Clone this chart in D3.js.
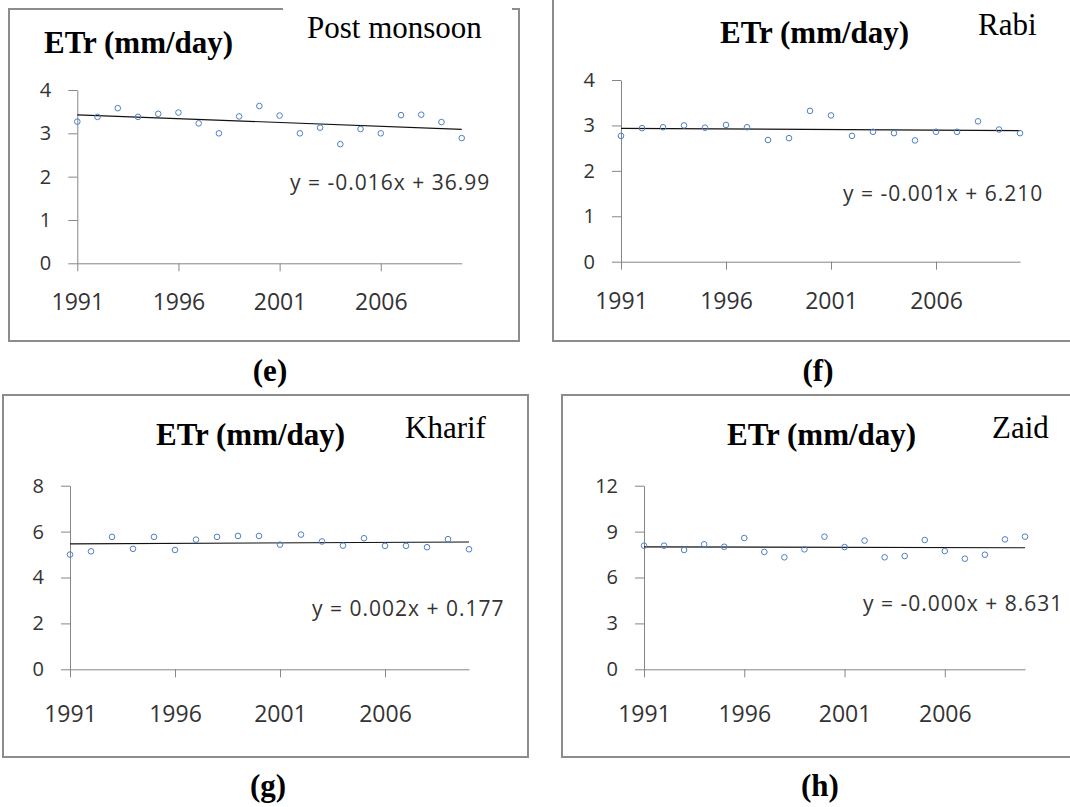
<!DOCTYPE html>
<html>
<head>
<meta charset="utf-8">
<script src="https://cdn.jsdelivr.net/npm/d3@7/dist/d3.min.js"></script>
<style>
  html, body { margin: 0; padding: 0; background: #fff; }
  svg { display: block; }
  .tick text { font-family: "Open Sans", sans-serif; fill: #333; }
  .serif { font-family: "Liberation Serif", "Times New Roman", serif; }
</style>
</head>
<body>
<div id="chart"></div>
<script>
/* ---- data ---- */
const years = [1991,1992,1993,1994,1995,1996,1997,1998,1999,2000,
               2001,2002,2003,2004,2005,2006,2007,2008,2009,2010];

const postMonsoon = [3.27,3.38,3.58,3.38,3.45,3.48,3.23,3.00,3.39,3.63,
                     3.41,3.00,3.13,2.75,3.10,3.00,3.42,3.43,3.26,2.89];
const rabi        = [2.77,2.94,2.96,3.00,2.95,3.01,2.96,2.68,2.72,3.32,
                     3.22,2.77,2.86,2.83,2.67,2.86,2.86,3.09,2.91,2.83];
const kharif      = [5.00,5.14,5.77,5.25,5.77,5.20,5.65,5.77,5.81,5.81,
                     5.43,5.87,5.57,5.39,5.71,5.38,5.38,5.32,5.67,5.23];
const zaid        = [8.08,8.08,7.80,8.17,8.01,8.58,7.67,7.32,7.84,8.67,
                     7.99,8.41,7.32,7.40,8.45,7.73,7.23,7.49,8.49,8.67];

const xTickYears = [1991, 1996, 2001, 2006];
const yTicksPost = [0, 1, 2, 3, 4];
const yTicksRabi = [0, 1, 2, 3, 4];
const yTicksKharif = [0, 2, 4, 6, 8];
const yTicksZaid = [0, 3, 6, 9, 12];

const seasons = ['Post monsoon', 'Rabi', 'Kharif', 'Zaid'];
const equations = ['y = -0.016x + 36.99', 'y = -0.001x + 6.210',
                   'y = 0.002x + 0.177', 'y = -0.000x + 8.631'];
const panelLetters = ['(e)', '(f)', '(g)', '(h)'];
const titleText = 'ETr (mm/day)';

/* ---- layout of the four panels ---- */
const panels = [
  { values: postMonsoon, yTicks: yTicksPost, frame: [9, 9, 510, 332],
    px: [77.3, 461.7], py: [263.3, 90], xPad: 22,
    title: [44, 53], season: [307, 38], eq: [290, 189.5], letter: [270, 381],
    cover: [283, 0, 229, 46] },
  { values: rabi, yTicks: yTicksRabi, frame: [553, -10, 600, 351],
    px: [621, 1020], py: [261.7, 80], xPad: 23,
    title: [720, 43], season: [978, 35], eq: [843, 200.5], letter: [818, 381] },
  { values: kharif, yTicks: yTicksKharif, frame: [3, 395, 525, 362],
    px: [70, 469], py: [669.3, 485.7], xPad: 28,
    title: [156, 445], season: [405, 438], eq: [312, 615.5], letter: [268, 796] },
  { values: zaid, yTicks: yTicksZaid, frame: [562, 395, 600, 362],
    px: [644, 1025], py: [669.3, 485.7], xPad: 28,
    title: [727, 445], season: [992, 438], eq: [863, 610.5], letter: [820, 796] }
];

const W = 1070, H = 807;
const svg = d3.select('#chart').append('svg').attr('width', W).attr('height', H);

// least squares trend from the series
function fit(xs, ys) {
  const mx = d3.mean(xs), my = d3.mean(ys);
  let num = 0, den = 0;
  xs.forEach((x, i) => { num += (x - mx) * (ys[i] - my); den += (x - mx) * (x - mx); });
  const b = num / den;
  return { b, a: my - b * mx };
}

panels.forEach((p, i) => {
  const g = svg.append('g');

  g.append('rect')
    .attr('x', p.frame[0]).attr('y', p.frame[1])
    .attr('width', p.frame[2]).attr('height', p.frame[3])
    .attr('fill', 'none').attr('stroke', '#8c8c8c').attr('stroke-width', 2);

  if (p.cover) {
    g.append('rect')
      .attr('x', p.cover[0]).attr('y', p.cover[1])
      .attr('width', p.cover[2]).attr('height', p.cover[3])
      .attr('fill', '#fff');
  }

  const x = d3.scaleLinear().domain([years[0], years[years.length - 1]]).range(p.px);
  const y = d3.scaleLinear().domain([p.yTicks[0], p.yTicks[p.yTicks.length - 1]]).range(p.py);

  const yAxis = g.append('g')
    .attr('transform', `translate(${p.px[0]},0)`)
    .call(d3.axisLeft(y).tickValues(p.yTicks).tickFormat(d3.format('d'))
      .tickSize(9).tickSizeOuter(0).tickPadding(17));
  yAxis.selectAll('text').style('font-size', '20px');

  const xAxis = g.append('g')
    .attr('transform', `translate(0,${p.py[0]})`)
    .call(d3.axisBottom(x).tickValues(xTickYears).tickFormat(d3.format('d'))
      .tickSize(8).tickSizeOuter(0).tickPadding(p.xPad));
  xAxis.selectAll('text').style('font-size', '23px');

  [yAxis, xAxis].forEach(ax => {
    ax.select('.domain').attr('stroke', '#868686');
    ax.selectAll('.tick line').attr('stroke', '#868686');
  });

  // trend line
  const t = fit(years, p.values);
  const ends = [years[0], years[years.length - 1]];
  g.append('path')
    .attr('d', d3.line().x(d => x(d)).y(d => y(t.a + t.b * d))(ends))
    .attr('stroke', '#111').attr('stroke-width', 1.2).attr('fill', 'none');

  // points
  g.selectAll('circle').data(p.values).join('circle')
    .attr('cx', (d, j) => x(years[j])).attr('cy', d => y(d))
    .attr('r', 2.8).attr('fill', 'none')
    .attr('stroke', '#4f7fc4').attr('stroke-width', 1);

  g.append('text').attr('class', 'serif')
    .attr('x', p.title[0]).attr('y', p.title[1])
    .style('font-weight', 'bold').style('font-size', '31px')
    .text(titleText);

  g.append('text').attr('class', 'serif')
    .attr('x', p.season[0]).attr('y', p.season[1])
    .style('font-size', '31px')
    .text(seasons[i]);

  g.append('text')
    .attr('x', p.eq[0]).attr('y', p.eq[1])
    .style('font-family', '"Open Sans", sans-serif')
    .style('font-size', '21px').style('letter-spacing', '1px')
    .attr('fill', '#333')
    .text(equations[i]);

  g.append('text').attr('class', 'serif')
    .attr('x', p.letter[0]).attr('y', p.letter[1])
    .attr('text-anchor', 'middle')
    .style('font-weight', 'bold').style('font-size', '31px')
    .text(panelLetters[i]);
});
</script>
</body>
</html>
